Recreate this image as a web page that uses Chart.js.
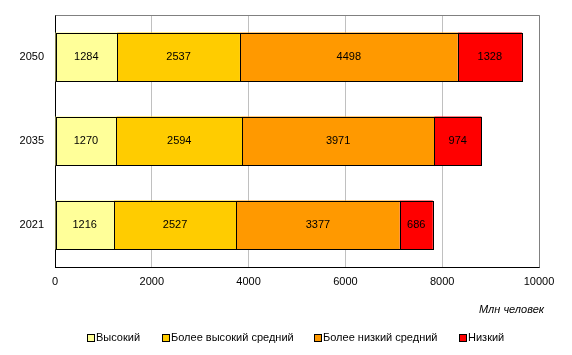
<!DOCTYPE html>
<html>
<head>
<meta charset="utf-8">
<script src="https://cdn.jsdelivr.net/npm/chart.js@4/dist/chart.umd.min.js"></script>
<style>
html,body{margin:0;padding:0;background:#fff;}
#wrap{width:572px;height:355px;}
</style>
</head>
<body>
<div id="wrap"><canvas id="c" width="572" height="355"></canvas></div>
<script>
const categories = ['2050', '2035', '2021'];
const seriesNames = ['Высокий', 'Более высокий средний', 'Более низкий средний', 'Низкий'];
const highIncome = [1284, 1270, 1216];
const upperMiddle = [2537, 2594, 2527];
const lowerMiddle = [4498, 3971, 3377];
const lowIncome = [1328, 974, 686];
const xTicks = [0, 2000, 4000, 6000, 8000, 10000];
const axisTitle = 'Млн человек';
const colors = ['#FFFF99', '#FFCC00', '#FF9900', '#FF0000'];

const FONT = '"Liberation Sans", Arial, sans-serif';
Chart.defaults.font.family = FONT;
Chart.defaults.font.size = 11;
Chart.defaults.color = '#000';

const seriesData = [highIncome, upperMiddle, lowerMiddle, lowIncome];
const legendX = [88, 163, 315, 460];

const extras = {
  id: 'extras',
  afterDatasetsDraw(chart) {
    const ctx = chart.ctx;
    ctx.save();
    ctx.strokeStyle = '#000';
    ctx.lineWidth = 1;
    chart.data.datasets.forEach((ds, i) => {
      const meta = chart.getDatasetMeta(i);
      meta.data.forEach((bar) => {
        const l = Math.round(Math.min(bar.x, bar.base)) + 0.5;
        const r = Math.round(Math.max(bar.x, bar.base)) + 0.5;
        const t = Math.round(bar.y - bar.height / 2) + 0.5;
        const b = Math.round(bar.y + bar.height / 2) + 0.5;
        ctx.strokeRect(l, t, r - l, b - t);
      });
    });
    ctx.font = '11px ' + FONT;
    ctx.fillStyle = '#000';
    ctx.textAlign = 'center';
    ctx.textBaseline = 'middle';
    chart.data.datasets.forEach((ds, i) => {
      const meta = chart.getDatasetMeta(i);
      meta.data.forEach((bar, j) => {
        const cx = (bar.x + bar.base) / 2;
        ctx.fillText(String(ds.data[j]), cx, bar.y);
      });
    });
    ctx.restore();
  },
  afterDraw(chart) {
    const ctx = chart.ctx;
    const a = chart.chartArea;
    ctx.save();
    ctx.strokeStyle = '#808080';
    ctx.lineWidth = 1;
    ctx.beginPath();
    ctx.moveTo(Math.round(a.left) + 0.5, Math.round(a.top) + 0.5);
    ctx.lineTo(Math.round(a.right) + 0.5, Math.round(a.top) + 0.5);
    ctx.lineTo(Math.round(a.right) + 0.5, Math.round(a.bottom) + 0.5);
    ctx.stroke();
    ctx.font = 'italic 11px ' + FONT;
    ctx.fillStyle = '#000';
    ctx.textAlign = 'right';
    ctx.textBaseline = 'middle';
    ctx.fillText(axisTitle, 544, 310);
    ctx.font = '11px ' + FONT;
    ctx.textAlign = 'left';
    const yc = 338;
    chart.data.datasets.forEach((ds, i) => {
      const x = legendX[i];
      ctx.fillStyle = ds.backgroundColor;
      ctx.fillRect(x, yc - 3, 6, 6);
      ctx.strokeStyle = '#000';
      ctx.strokeRect(x - 0.5, yc - 3.5, 7, 7);
      ctx.fillStyle = '#000';
      ctx.fillText(ds.label, x + 8, yc);
    });
    ctx.restore();
  }
};

new Chart(document.getElementById('c'), {
  type: 'bar',
  data: {
    labels: categories,
    datasets: seriesNames.map((name, i) => ({
      label: name,
      data: seriesData[i],
      backgroundColor: colors[i],
      borderWidth: 0,
      barPercentage: 0.583,
      categoryPercentage: 1
    }))
  },
  options: {
    indexAxis: 'y',
    responsive: false,
    animation: false,
    layout: { padding: { left: 0, right: 33, top: 15, bottom: 0 } },
    plugins: {
      tooltip: { enabled: false },
      legend: { display: false }
    },
    scales: {
      x: {
        stacked: true,
        min: 0,
        max: 10000,
        afterBuildTicks(scale) { scale.ticks = xTicks.map(v => ({ value: v })); },
        afterFit(scale) { scale.height = 88; },
        grid: { color: '#c0c0c0', drawTicks: false },
        border: { color: '#000', width: 1 },
        ticks: { padding: 8, color: '#000', font: { size: 11 }, maxRotation: 0,
                 callback: (v) => String(v) }
      },
      y: {
        stacked: true,
        afterFit(scale) { scale.width = 55; scale.paddingTop = 0; scale.paddingBottom = 0; },
        grid: { drawOnChartArea: false, drawTicks: false },
        border: { color: '#000', width: 1 },
        ticks: { padding: 11, color: '#000', font: { size: 11 } }
      }
    }
  },
  plugins: [extras]
});
</script>
</body>
</html>
